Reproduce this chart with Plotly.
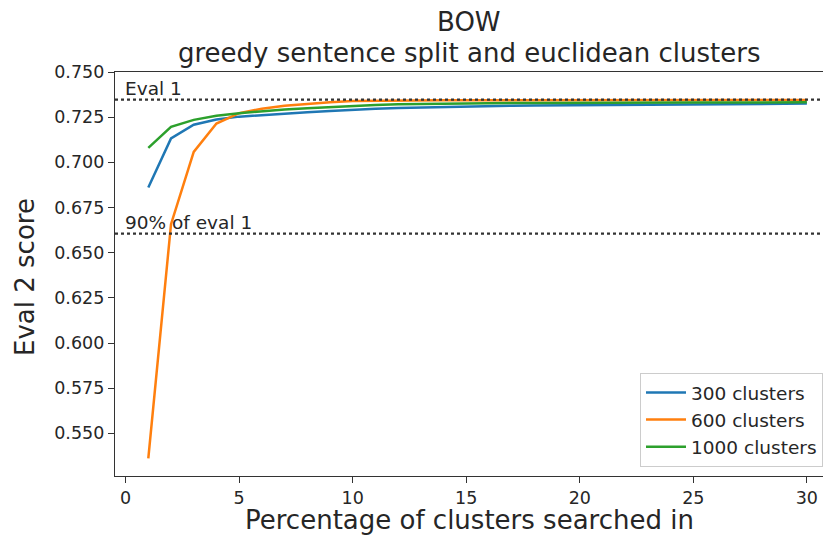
import plotly.graph_objects as go

# ---- data ----
pct = list(range(1, 31))
c300 = [0.6861, 0.7132, 0.7208, 0.7237, 0.7253, 0.7262, 0.7270, 0.7277, 0.7284, 0.7292,
        0.7297, 0.7301, 0.7304, 0.7307, 0.7309, 0.7311, 0.7313, 0.7314, 0.7315, 0.7316,
        0.7317, 0.7318, 0.7319, 0.7320, 0.7321, 0.7322, 0.7323, 0.7323, 0.7324, 0.7325]
c600 = [0.5362, 0.6658, 0.7058, 0.7215, 0.7272, 0.7297, 0.7313, 0.7325, 0.7333, 0.7340,
        0.7342, 0.7343, 0.7343, 0.7344, 0.7344, 0.7344, 0.7344, 0.7345, 0.7345, 0.7345,
        0.7345, 0.7345, 0.7345, 0.7345, 0.7345, 0.7345, 0.7345, 0.7345, 0.7345, 0.7345]
c1000 = [0.7080, 0.7196, 0.7235, 0.7258, 0.7272, 0.7283, 0.7292, 0.7300, 0.7307, 0.7313,
         0.7318, 0.7321, 0.7323, 0.7325, 0.7326, 0.7327, 0.7328, 0.7328, 0.7329, 0.7329,
         0.7330, 0.7330, 0.7330, 0.7331, 0.7331, 0.7331, 0.7331, 0.7331, 0.7332, 0.7332]
series_names = ["300 clusters", "600 clusters", "1000 clusters"]
series_colors = ["#1f77b4", "#ff7f0e", "#2ca02c"]
eval1 = 0.7347
eval1_90 = 0.6606
ref_labels = ["Eval 1", "90% of eval 1"]
title_lines = ["BOW", "greedy sentence split and euclidean clusters"]
x_title = "Percentage of clusters searched in"
y_title = "Eval 2 score"
x_ticks = [0, 5, 10, 15, 20, 25, 30]
y_ticks = [0.550, 0.575, 0.600, 0.625, 0.650, 0.675, 0.700, 0.725, 0.750]

FONT = "DejaVu Sans"
TXT = "#262626"
AX = "#333333"
# the page body adds an 8px margin all round; size the figure to fit inside the window
W, H = 815, 528
ML, MT, MB = 107, 64, 60
PLOT_H = H - MT - MB

fig = go.Figure()
for name, ys, col in zip(series_names, [c300, c600, c1000], series_colors):
    fig.add_trace(go.Scatter(x=pct, y=ys, mode="lines", name=name,
                             line=dict(color=col, width=2.5)))

for yv in [eval1, eval1_90]:
    fig.add_shape(type="line", xref="paper", x0=0, x1=1, yref="y", y0=yv, y1=yv,
                  line=dict(color="#333333", width=2.2, dash="dot"), layer="above")

for lab, yv in zip(ref_labels, [eval1, eval1_90]):
    fig.add_annotation(x=0, y=yv, xref="x", yref="y", text=lab, showarrow=False,
                       xanchor="left", yanchor="bottom", xshift=-3, yshift=-1,
                       font=dict(family=FONT, size=18.5, color=TXT))

# titles as annotations for precise placement
for line, ysh in zip(title_lines, [50, 19]):
    fig.add_annotation(x=0.5, xref="paper", y=1, yref="paper", text=line, showarrow=False,
                       xanchor="center", yanchor="middle", yshift=ysh,
                       font=dict(family=FONT, size=26, color=TXT))
fig.add_annotation(x=0.5, xref="paper", y=0, yref="paper", text=x_title, showarrow=False,
                   xanchor="center", yanchor="middle", yshift=-44,
                   font=dict(family=FONT, size=26, color=TXT))
fig.add_annotation(x=0, xref="paper", y=(468 - 269) / PLOT_H, yref="paper", text=y_title,
                   showarrow=False, textangle=-90, xanchor="center", yanchor="middle",
                   xshift=-90, font=dict(family=FONT, size=26, color=TXT))

fig.update_layout(
    width=W, height=H,
    margin=dict(l=ML, r=0, t=MT, b=MB, autoexpand=False),
    paper_bgcolor="white", plot_bgcolor="white",
    font=dict(family=FONT, color=TXT, size=17.5),
    showlegend=True,
    legend=dict(x=1, xanchor="right", xref="paper", y=9 / PLOT_H, yanchor="bottom", yref="paper",
                bgcolor="white", bordercolor="#cccccc", borderwidth=1,
                font=dict(family=FONT, size=18.5, color=TXT),
                itemwidth=40, tracegroupgap=0),
    xaxis=dict(range=[-0.467, 30.71], tickvals=x_ticks, ticktext=[str(v) for v in x_ticks],
               automargin=False,
               showgrid=False, zeroline=False, showline=True, linecolor=AX, linewidth=1.3,
               mirror=True, ticks="outside", ticklen=6, tickwidth=1.3, tickcolor=AX,
               tickfont=dict(family=FONT, size=17.5, color=TXT)),
    yaxis=dict(range=[0.5264, 0.75], tickvals=y_ticks, ticktext=[f"{v:.3f}" for v in y_ticks],
               automargin=False,
               showgrid=False, zeroline=False, showline=True, linecolor=AX, linewidth=1.3,
               ticks="outside", ticklen=6, tickwidth=1.3, tickcolor=AX,
               tickfont=dict(family=FONT, size=17.5, color=TXT)),
)

fig.write_html("out.html")
